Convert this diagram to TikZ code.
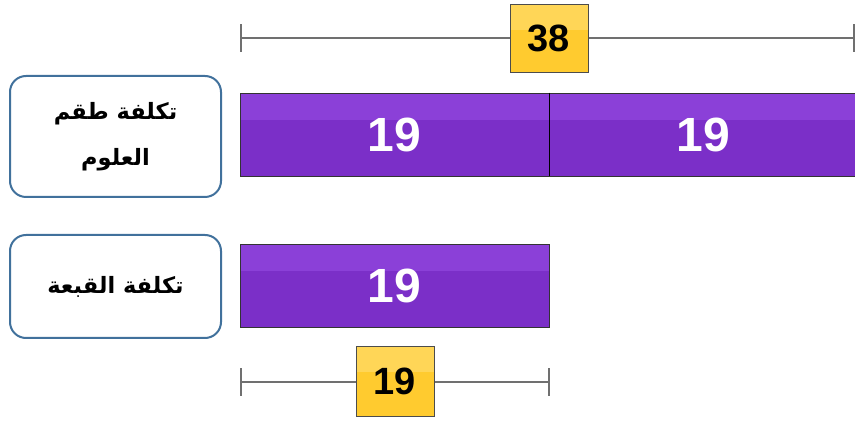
\documentclass[tikz,border=0pt]{standalone}
\usepackage{fontspec}
\setmainfont{Liberation Sans}
\newfontfamily\arabicfont[Script=Arabic]{DejaVu Sans}
\TeXXeTstate=1
\usetikzlibrary{arrows.meta}
\definecolor{purpleDark}{HTML}{7B2FC8}
\definecolor{purpleLight}{HTML}{8B40D8}
\definecolor{yellowDark}{HTML}{FFCB2F}
\definecolor{yellowLight}{HTML}{FFD657}
\definecolor{boxBlue}{HTML}{41719C}
\definecolor{lineGray}{HTML}{707070}
\tikzset{
  x=1pt,y=1pt,
  barbox/.style={draw=black!80, line width=0.9pt, fill=purpleDark, minimum height=83pt, inner sep=0pt,
    text=white, font=\fontsize{48}{48}\selectfont\bfseries,
    path picture={\fill[purpleLight] (path picture bounding box.north west) rectangle ([yshift=-27pt]path picture bounding box.north east);}},
  valbox/.style={draw=black!70, line width=0.8pt, fill=yellowDark, minimum width=78pt, inner sep=0pt,
    text=black, font=\fontsize{38}{38}\selectfont\bfseries,
    path picture={\fill[yellowLight] (path picture bounding box.north west) rectangle ([yshift=-26pt]path picture bounding box.north east);}},
  labelbox/.style={draw=boxBlue, line width=2pt, rounded corners=16pt, fill=white, minimum width=211pt, inner sep=0pt,
    align=center, font=\arabicfont\bfseries\fontsize{22.5}{46}\selectfont},
  bracket/.style={draw=lineGray, line width=1.5pt},
  tick/.style={draw=lineGray, line width=1.5pt},
  divider/.style={draw=black, line width=1.8pt},
}
\begin{document}
\begin{tikzpicture}
\useasboundingbox (0,0) rectangle (855,423);
% top bracket
\coordinate (tl) at (241,385);
\coordinate (tr) at (854,385);
\draw[bracket] (tl) -- (tr);
\draw[tick] ([yshift=-14pt]tl) -- ([yshift=14pt]tl);
\draw[tick] ([yshift=-14pt]tr) -- ([yshift=14pt]tr);
\node[valbox, minimum height=68pt] (v38) at (549,385) {38};
% first bar
\node[barbox, minimum width=309pt] (b1) at (394.5,288.5) {19};
\node[barbox, minimum width=309pt] (b2) at (703.5,288.5) {19};
\draw[divider] (b1.north east) -- (b1.south east);
\node[labelbox, minimum height=121pt] (lab1) at (115.5,286.5) {\beginR تكلفة طقم\endR\\\beginR العلوم\endR};
% second bar
\node[barbox, minimum width=309pt] (b3) at (394.5,137.5) {19};
\node[labelbox, minimum height=103pt] (lab2) at (115.5,136.5) {\beginR تكلفة القبعة\endR};
% bottom bracket
\coordinate (bl) at (241,41);
\coordinate (br) at (549,41);
\draw[bracket] (bl) -- (br);
\draw[tick] ([yshift=-14pt]bl) -- ([yshift=14pt]bl);
\draw[tick] ([yshift=-14pt]br) -- ([yshift=14pt]br);
\node[valbox, minimum height=70pt] (v19) at (395,42) {19};
\end{tikzpicture}
\end{document}
